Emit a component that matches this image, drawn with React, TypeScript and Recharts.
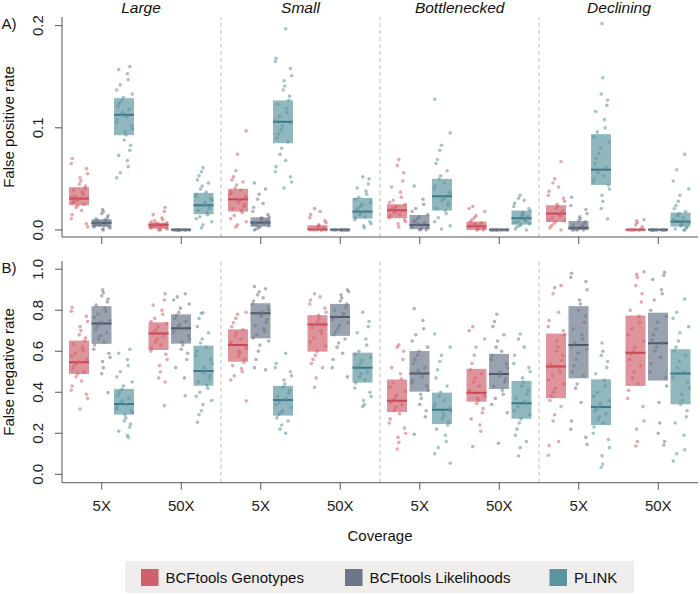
import React from 'react';
import { ComposedChart, Bar, Scatter, XAxis, YAxis, ReferenceLine } from 'recharts';

const POPULATIONS = ['Large', 'Small', 'Bottlenecked', 'Declining'];
const COVERAGES = ['5X', '50X'];
const SERIES = ['BCFtools Genotypes', 'BCFtools Likelihoods', 'PLINK'];

// ---- Panel A: False positive rate (box stats per category: L5, L50, S5, S50, B5, B50, D5, D50)
const FPR_G_Q1 = [0.0242, 0.0013, 0.018, 0.0, 0.0115, 0.0, 0.0078, 0.0];
const FPR_G_MED = [0.0307, 0.0049, 0.030, 0.0005, 0.0193, 0.0036, 0.016, 0.0003];
const FPR_G_Q3 = [0.0419, 0.0072, 0.0402, 0.0046, 0.0252, 0.0082, 0.0242, 0.001];
const FPR_L_Q1 = [0.0032, 0.0, 0.0032, 0.0, 0.0007, 0.0, 0.0, 0.0];
const FPR_L_MED = [0.0069, 0.0003, 0.0072, 0.0003, 0.0049, 0.0003, 0.002, 0.0003];
const FPR_L_Q3 = [0.0105, 0.0007, 0.0124, 0.0007, 0.0147, 0.0007, 0.0088, 0.0007];
const FPR_P_Q1 = [0.0928, 0.0154, 0.085, 0.0111, 0.019, 0.0052, 0.0441, 0.0033];
const FPR_P_MED = [0.1127, 0.0242, 0.1059, 0.018, 0.033, 0.0115, 0.059, 0.0082];
const FPR_P_Q3 = [0.129, 0.0363, 0.1268, 0.0314, 0.050, 0.019, 0.0938, 0.017];

const FPR_G_PTS = [
  [0.070,0.065,0.060,0.055,0.051,0.048,0.045,0.043,0.041,0.039,0.037,0.035,0.033,0.032,0.031,0.030,0.029,0.028,0.027,0.025,0.024,0.022,0.019,0.015,0.011,0.006,0.003],
  [0.022,0.018,0.015,0.012,0.010,0.009,0.008,0.007,0.006,0.006,0.005,0.005,0.005,0.004,0.004,0.003,0.003,0.002,0.002,0.001,0.001,0.000,0.000],
  [0.097,0.074,0.058,0.052,0.049,0.047,0.044,0.041,0.039,0.037,0.035,0.033,0.031,0.030,0.029,0.027,0.025,0.023,0.021,0.019,0.017,0.014,0.011,0.008,0.005,0.003],
  [0.021,0.018,0.015,0.012,0.009,0.007,0.005,0.004,0.003,0.002,0.001,0.001,0.000,0.000,0.000,0.000,0.000,0.000],
  [0.069,0.063,0.056,0.048,0.042,0.037,0.032,0.029,0.027,0.025,0.023,0.022,0.021,0.020,0.019,0.018,0.017,0.015,0.014,0.012,0.010,0.008,0.006,0.003],
  [0.023,0.021,0.018,0.014,0.012,0.010,0.008,0.007,0.006,0.005,0.004,0.004,0.003,0.003,0.002,0.001,0.001,0.000,0.000],
  [0.067,0.050,0.046,0.042,0.038,0.034,0.031,0.028,0.025,0.023,0.021,0.019,0.017,0.016,0.015,0.014,0.012,0.010,0.009,0.008,0.006,0.004,0.002,0.000],
  [0.010,0.009,0.007,0.005,0.003,0.001,0.000,0.000,0.000,0.000,0.000,0.000,0.000,0.000],
];
const FPR_L_PTS = [
  [0.020,0.018,0.016,0.014,0.012,0.011,0.010,0.009,0.009,0.008,0.008,0.007,0.007,0.007,0.006,0.006,0.005,0.005,0.004,0.004,0.003,0.003,0.002,0.001,0.000],
  [0,0,0,0,0,0,0,0,0,0,0,0],
  [0.046,0.040,0.035,0.030,0.026,0.022,0.018,0.015,0.013,0.012,0.011,0.010,0.009,0.008,0.007,0.007,0.006,0.005,0.005,0.004,0.003,0.002,0.001,0.000],
  [0,0,0,0,0,0,0,0,0,0,0,0],
  [0.043,0.030,0.025,0.021,0.018,0.015,0.013,0.011,0.009,0.008,0.007,0.006,0.005,0.005,0.004,0.003,0.003,0.002,0.001,0.001,0.000,0.000],
  [0,0,0,0,0,0,0,0,0,0,0,0],
  [0.032,0.024,0.020,0.016,0.013,0.011,0.009,0.008,0.006,0.005,0.004,0.003,0.002,0.002,0.002,0.001,0.001,0.000,0.000,0.000,0.000],
  [0,0,0,0,0,0,0,0,0,0,0,0],
];
const FPR_P_PTS = [
  [0.160,0.157,0.153,0.147,0.142,0.137,0.133,0.130,0.127,0.124,0.121,0.118,0.115,0.113,0.111,0.108,0.105,0.102,0.099,0.096,0.093,0.088,0.083,0.078,0.073,0.068,0.062,0.056,0.051],
  [0.061,0.057,0.053,0.049,0.046,0.043,0.040,0.037,0.035,0.033,0.031,0.029,0.027,0.025,0.024,0.023,0.021,0.019,0.017,0.015,0.013,0.011,0.008,0.005,0.002],
  [0.197,0.168,0.165,0.158,0.151,0.146,0.141,0.137,0.131,0.127,0.123,0.119,0.115,0.111,0.107,0.105,0.102,0.098,0.094,0.090,0.086,0.080,0.074,0.068,0.062,0.057,0.052,0.047,0.041],
  [0.052,0.050,0.045,0.041,0.038,0.035,0.032,0.030,0.027,0.025,0.023,0.021,0.019,0.018,0.017,0.015,0.013,0.012,0.010,0.008,0.006,0.004,0.002],
  [0.128,0.095,0.083,0.078,0.069,0.065,0.058,0.053,0.050,0.046,0.043,0.040,0.037,0.035,0.033,0.031,0.029,0.027,0.024,0.021,0.019,0.016,0.012,0.008,0.004,0.001],
  [0.034,0.031,0.029,0.026,0.023,0.021,0.019,0.017,0.015,0.014,0.013,0.012,0.011,0.010,0.009,0.008,0.007,0.006,0.005,0.004,0.003,0.001,0.000],
  [0.202,0.149,0.133,0.127,0.122,0.116,0.108,0.100,0.096,0.091,0.086,0.080,0.075,0.070,0.065,0.061,0.059,0.056,0.053,0.050,0.047,0.044,0.040,0.034,0.028,0.021,0.011],
  [0.074,0.059,0.048,0.040,0.034,0.028,0.024,0.021,0.018,0.016,0.014,0.012,0.010,0.009,0.008,0.007,0.006,0.005,0.004,0.003,0.002,0.001,0.000,0.000],
];

// ---- Panel B: False negative rate
const FNR_G_Q1 = [0.489, 0.606, 0.549, 0.598, 0.304, 0.354, 0.371, 0.431];
const FNR_G_MED = [0.546, 0.686, 0.631, 0.730, 0.358, 0.397, 0.525, 0.593];
const FNR_G_Q3 = [0.652, 0.741, 0.707, 0.776, 0.462, 0.514, 0.686, 0.774];
const FNR_L_Q1 = [0.636, 0.637, 0.663, 0.675, 0.403, 0.416, 0.468, 0.457];
const FNR_L_MED = [0.735, 0.712, 0.785, 0.767, 0.491, 0.489, 0.631, 0.639];
const FNR_L_Q3 = [0.820, 0.780, 0.834, 0.831, 0.601, 0.587, 0.820, 0.788];
const FNR_P_Q1 = [0.291, 0.432, 0.286, 0.447, 0.245, 0.271, 0.240, 0.341];
const FNR_P_MED = [0.343, 0.504, 0.362, 0.520, 0.315, 0.346, 0.328, 0.491];
const FNR_P_Q3 = [0.416, 0.627, 0.431, 0.593, 0.398, 0.455, 0.463, 0.610];

const FNR_G_PTS = [
  [0.813,0.795,0.770,0.745,0.720,0.700,0.680,0.665,0.650,0.635,0.620,0.605,0.590,0.575,0.560,0.550,0.540,0.530,0.515,0.500,0.490,0.475,0.455,0.430,0.410,0.390,0.370,0.318],
  [0.880,0.850,0.825,0.800,0.780,0.760,0.745,0.735,0.720,0.705,0.695,0.685,0.675,0.660,0.645,0.630,0.615,0.600,0.585,0.560,0.530,0.500,0.470,0.450,0.335],
  [0.790,0.780,0.760,0.740,0.720,0.705,0.690,0.675,0.660,0.645,0.635,0.625,0.615,0.600,0.590,0.575,0.560,0.545,0.530,0.515,0.500,0.480,0.460,0.358],
  [0.880,0.865,0.850,0.830,0.810,0.790,0.775,0.760,0.745,0.735,0.725,0.715,0.700,0.685,0.665,0.645,0.625,0.600,0.580,0.560,0.540,0.520,0.470,0.424],
  [0.631,0.620,0.600,0.560,0.520,0.490,0.465,0.445,0.425,0.405,0.385,0.370,0.360,0.350,0.340,0.325,0.310,0.295,0.270,0.250,0.225,0.200,0.180,0.155,0.123],
  [0.720,0.700,0.660,0.620,0.580,0.540,0.510,0.490,0.470,0.450,0.430,0.410,0.400,0.390,0.380,0.370,0.360,0.345,0.320,0.300,0.270,0.240,0.210,0.135],
  [0.920,0.910,0.880,0.790,0.750,0.720,0.700,0.680,0.650,0.620,0.600,0.580,0.555,0.535,0.520,0.500,0.480,0.460,0.440,0.420,0.400,0.380,0.360,0.330,0.290,0.260,0.160,0.140,0.093],
  [0.987,0.975,0.960,0.920,0.880,0.840,0.800,0.770,0.740,0.710,0.680,0.650,0.620,0.600,0.585,0.560,0.530,0.500,0.470,0.440,0.410,0.370,0.330,0.260,0.220,0.160,0.138],
];
const FNR_L_PTS = [
  [0.899,0.885,0.870,0.855,0.840,0.825,0.810,0.795,0.780,0.765,0.750,0.740,0.730,0.720,0.705,0.690,0.675,0.660,0.645,0.630,0.610,0.590,0.570,0.550,0.520,0.490,0.398],
  [0.880,0.865,0.850,0.830,0.810,0.790,0.775,0.760,0.745,0.730,0.720,0.710,0.700,0.690,0.675,0.660,0.645,0.630,0.610,0.590,0.560,0.520,0.470,0.383],
  [0.915,0.905,0.890,0.875,0.860,0.845,0.830,0.815,0.800,0.790,0.780,0.770,0.755,0.740,0.725,0.710,0.695,0.680,0.665,0.650,0.630,0.600,0.560,0.520,0.509],
  [0.900,0.890,0.875,0.860,0.845,0.830,0.815,0.800,0.785,0.775,0.765,0.755,0.740,0.725,0.710,0.695,0.680,0.660,0.640,0.620,0.590,0.560,0.520,0.475],
  [0.808,0.750,0.710,0.680,0.650,0.620,0.600,0.580,0.560,0.540,0.520,0.505,0.490,0.475,0.460,0.445,0.430,0.410,0.390,0.370,0.340,0.310,0.280,0.195],
  [0.780,0.745,0.720,0.680,0.650,0.620,0.600,0.580,0.560,0.540,0.520,0.500,0.490,0.480,0.465,0.450,0.430,0.410,0.390,0.370,0.340,0.300,0.151],
  [0.980,0.960,0.940,0.900,0.850,0.830,0.800,0.770,0.740,0.710,0.680,0.660,0.640,0.625,0.610,0.590,0.560,0.530,0.500,0.480,0.440,0.420,0.350,0.260,0.220,0.180,0.146],
  [0.985,0.970,0.950,0.900,0.880,0.850,0.800,0.770,0.740,0.710,0.680,0.655,0.640,0.620,0.600,0.570,0.540,0.500,0.470,0.430,0.350,0.250,0.200,0.160,0.143],
];
const FNR_P_PTS = [
  [0.610,0.590,0.560,0.530,0.500,0.475,0.450,0.430,0.415,0.400,0.385,0.370,0.360,0.350,0.340,0.330,0.320,0.310,0.300,0.290,0.275,0.260,0.245,0.230,0.210,0.190,0.179],
  [0.788,0.785,0.760,0.720,0.690,0.660,0.640,0.620,0.600,0.580,0.560,0.540,0.520,0.505,0.495,0.480,0.465,0.450,0.435,0.420,0.400,0.380,0.360,0.340,0.310,0.290,0.254],
  [0.590,0.540,0.520,0.500,0.480,0.460,0.440,0.425,0.410,0.395,0.380,0.370,0.360,0.350,0.340,0.325,0.310,0.300,0.290,0.275,0.260,0.240,0.220,0.200],
  [0.790,0.745,0.720,0.690,0.660,0.630,0.600,0.585,0.570,0.555,0.540,0.525,0.515,0.500,0.490,0.475,0.460,0.445,0.420,0.400,0.380,0.360,0.340,0.330],
  [0.684,0.620,0.580,0.550,0.510,0.470,0.430,0.400,0.380,0.360,0.345,0.330,0.320,0.310,0.300,0.285,0.270,0.255,0.240,0.220,0.190,0.160,0.130,0.100,0.054],
  [0.684,0.660,0.620,0.580,0.540,0.520,0.500,0.470,0.450,0.430,0.410,0.390,0.370,0.355,0.345,0.330,0.310,0.290,0.270,0.250,0.220,0.190,0.160,0.130,0.089],
  [0.640,0.600,0.580,0.550,0.520,0.490,0.460,0.430,0.400,0.380,0.360,0.345,0.330,0.320,0.310,0.295,0.280,0.265,0.250,0.230,0.200,0.170,0.130,0.090,0.050,0.034],
  [0.854,0.790,0.760,0.720,0.690,0.650,0.620,0.600,0.580,0.550,0.520,0.500,0.490,0.470,0.450,0.420,0.390,0.360,0.340,0.310,0.280,0.250,0.190,0.120,0.100,0.065],
];

const FPR_TICKS = [0, 0.1, 0.2];
const FNR_TICKS = [0, 0.2, 0.4, 0.6, 0.8, 1.0];

// ---- styling
const FONT = '"Liberation Sans", Arial, Helvetica, sans-serif';
const BASE = ['#d0606b', '#6b7689', '#5b939f'];
const MED = ['#c94655', '#4c586b', '#3b7885'];
const BOX_OPACITY = 0.68;
const PT_OPACITY = 0.55;
const FRAME = '#555555';
const SERIES_OFFSET = [-0.283, 0, 0.283];
const JITTER = [-0.09, 0.04, -0.02, 0.08, -0.06, 0.01, 0.10, -0.10, 0.05, -0.04, 0.07, -0.08, 0.02, -0.01, 0.09, -0.05, 0.03, -0.07, 0.06, 0.0, -0.03, 0.105, -0.095];

const CATS = POPULATIONS.flatMap((p) => COVERAGES.map((c) => ({ pop: p, cov: c })));

function buildRows(g: number[][], l: number[][], p: number[][]) {
  return CATS.map((c, i) => ({
    id: `${c.pop} ${c.cov}`,
    g: [g[0][i], g[2][i]], gm: g[1][i],
    l: [l[0][i], l[2][i]], lm: l[1][i],
    p: [p[0][i], p[2][i]], pm: p[1][i],
  }));
}

function buildPoints(lists: number[][], s: number) {
  return lists.flatMap((list, ci) =>
    list.map((v, j) => ({
      x: ci + 1 + SERIES_OFFSET[s] + JITTER[(j * 7 + ci * 3 + s * 5) % JITTER.length],
      y: v,
    }))
  );
}

const FPR_ROWS = buildRows([FPR_G_Q1, FPR_G_MED, FPR_G_Q3], [FPR_L_Q1, FPR_L_MED, FPR_L_Q3], [FPR_P_Q1, FPR_P_MED, FPR_P_Q3]);
const FNR_ROWS = buildRows([FNR_G_Q1, FNR_G_MED, FNR_G_Q3], [FNR_L_Q1, FNR_L_MED, FNR_L_Q3], [FNR_P_Q1, FNR_P_MED, FNR_P_Q3]);
const FPR_POINTS = [buildPoints(FPR_G_PTS, 0), buildPoints(FPR_L_PTS, 1), buildPoints(FPR_P_PTS, 2)];
const FNR_POINTS = [buildPoints(FNR_G_PTS, 0), buildPoints(FNR_L_PTS, 1), buildPoints(FNR_P_PTS, 2)];

const KEYS = ['g', 'l', 'p'];

function makeBoxShape(s: number) {
  const k = KEYS[s];
  return (props: any) => {
    const { x, y, width, height, payload } = props;
    if (x == null || y == null) return <g />;
    const top = Math.min(y, y + height);
    const h = Math.abs(height);
    const [q1, q3] = payload[k];
    const med = payload[k + 'm'];
    const my = q3 === q1 ? top + h : top + (h * (q3 - med)) / (q3 - q1);
    return (
      <g>
        <rect x={x} y={top} width={width} height={Math.max(h, 0.8)} fill={BASE[s]} fillOpacity={BOX_OPACITY} />
        <line x1={x} x2={x + width} y1={my} y2={my} stroke={MED[s]} strokeWidth={2} />
      </g>
    );
  };
}

function makeDot(s: number) {
  return (props: any) => (
    <circle cx={props.cx} cy={props.cy} r={1.8} fill={BASE[s]} fillOpacity={PT_OPACITY} />
  );
}

const yTick = (digits: number) => (props: any) => {
  const { y, payload } = props;
  return (
    <text x={43.5} y={y} transform={`rotate(-90 43.5 ${y})`} textAnchor="middle" fontSize={15} fill="#222" fontFamily={FONT}>
      {Number(payload.value).toFixed(digits)}
    </text>
  );
};

function Panel(props: {
  rows: any[]; points: any[][]; domain: [number, number]; ticks: number[];
  height: number; marginTop: number; xAxisHeight: number; showLabels: boolean; labelY: number;
}) {
  const { rows, points, domain, ticks, height, marginTop, xAxisHeight, showLabels, labelY } = props;
  const xTick = (p: any) =>
    showLabels ? (
      <text x={p.x} y={labelY} textAnchor="middle" fontSize={15} fill="#222" fontFamily={FONT}>
        {String(p.payload.value).split(' ')[1]}
      </text>
    ) : (
      <g />
    );
  return (
    <ComposedChart width={700} height={height} data={rows} margin={{ top: marginTop, right: 2, bottom: 0, left: 0 }} barSize={20} barGap={2.5}>
      <XAxis xAxisId="cat" dataKey="id" type="category" height={xAxisHeight} tickSize={7} tickLine={{ stroke: FRAME }} axisLine={{ stroke: FRAME }} tick={xTick} interval={0} />
      <XAxis xAxisId="top" dataKey="id" type="category" orientation="top" height={0} tick={false} tickLine={false} axisLine={{ stroke: FRAME }} />
      <XAxis xAxisId="num" dataKey="x" type="number" domain={[0.5, 8.5]} allowDataOverflow hide />
      <YAxis yAxisId="y" type="number" width={62} domain={domain} ticks={ticks} allowDataOverflow tickSize={7} tickLine={{ stroke: FRAME }} axisLine={{ stroke: FRAME }} tick={yTick(1)} interval={0} />
      <YAxis yAxisId="yr" type="number" orientation="right" width={0} domain={domain} allowDataOverflow tick={false} tickLine={false} axisLine={{ stroke: FRAME }} />
      {[2.5, 4.5, 6.5].map((v) => (
        <ReferenceLine key={v} x={v} xAxisId="num" yAxisId="y" stroke="#bdbdbd" strokeDasharray="4 3" strokeWidth={1} />
      ))}
      {[0, 1, 2].map((s) => (
        <Bar key={'b' + s} xAxisId="cat" yAxisId="y" dataKey={KEYS[s]} name={SERIES[s]} isAnimationActive={false} shape={makeBoxShape(s)} />
      ))}
      {[0, 1, 2].map((s) => (
        <Scatter key={'s' + s} xAxisId="num" yAxisId="y" data={points[s]} dataKey="y" name={SERIES[s]} isAnimationActive={false} shape={makeDot(s)} />
      ))}
    </ComposedChart>
  );
}

const FACET_X = [141, 300.5, 459.7, 619];
const LEGEND_X = [141, 345, 549.5];

export default function App() {
  return (
    <div style={{ position: 'absolute', left: 0, top: 0, width: 700, height: 594, background: '#fff', fontFamily: FONT }}>
      <div style={{ position: 'absolute', left: 0, top: 0 }}>
        <Panel rows={FPR_ROWS} points={FPR_POINTS} domain={[-0.0069, 0.2085]} ticks={FPR_TICKS} height={250} marginTop={17} xAxisHeight={13} showLabels={false} labelY={0} />
      </div>
      <div style={{ position: 'absolute', left: 0, top: 250 }}>
        <Panel rows={FNR_ROWS} points={FNR_POINTS} domain={[-0.041, 1.04]} ticks={FNR_TICKS} height={270} marginTop={11} xAxisHeight={37.3} showLabels={true} labelY={261} />
      </div>
      <svg width={700} height={594} style={{ position: 'absolute', left: 0, top: 0, pointerEvents: 'none' }}>
        <g fontFamily={FONT} fill="#111">
          {POPULATIONS.map((p, i) => (
            <text key={p} x={FACET_X[i]} y={13} textAnchor="middle" fontSize={15.5} fontStyle="italic">{p}</text>
          ))}
          <text x={1.5} y={29} fontSize={15}>A)</text>
          <text x={1.5} y={273} fontSize={15}>B)</text>
          <text x={14} y={127} transform="rotate(-90 14 127)" textAnchor="middle" fontSize={15}>False positive rate</text>
          <text x={14} y={372} transform="rotate(-90 14 372)" textAnchor="middle" fontSize={15}>False negative rate</text>
          <text x={380} y={541} textAnchor="middle" fontSize={15}>Coverage</text>
          <rect x={125} y={561} width={509} height={32} fill="#efeeec" />
          {SERIES.map((s, i) => (
            <g key={s}>
              <rect x={LEGEND_X[i]} y={569} width={17.5} height={17} fill={BASE[i]} />
              <text x={LEGEND_X[i] + 24.5} y={582.5} fontSize={15}>{s}</text>
            </g>
          ))}
        </g>
      </svg>
    </div>
  );
}
